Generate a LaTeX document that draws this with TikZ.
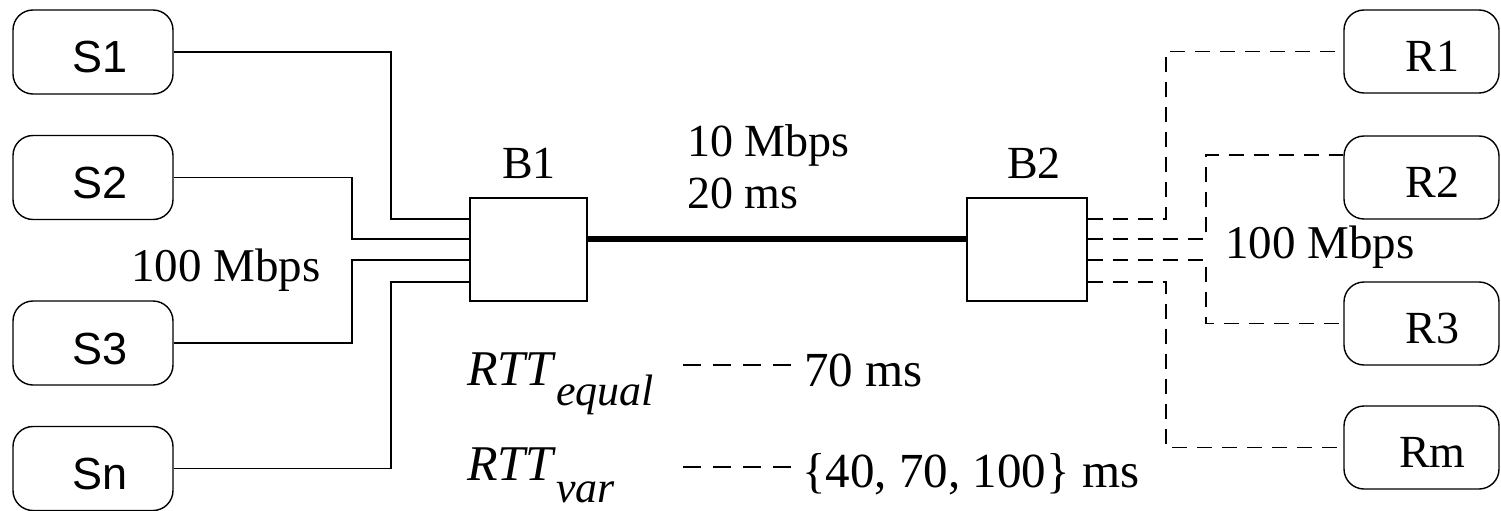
\documentclass[tikz,border=0pt]{standalone}
\usepackage{fontspec}
\setmainfont{Liberation Serif}
\newfontfamily\arialfont{Liberation Sans}
\begin{document}
\begin{tikzpicture}[x=1pt,y=-1pt,
  sbox/.style={draw, rounded corners=20pt, minimum width=160pt, minimum height=84pt,
    inner sep=0pt, font=\arialfont\fontsize{45}{54}\selectfont, text height=42pt, text depth=0pt, line width=1.4pt},
  rbox/.style={draw, rounded corners=20pt, minimum width=155pt, minimum height=83pt,
    inner sep=0pt, font=\fontsize{46}{54}\selectfont, text height=40pt, text depth=0pt, line width=1.4pt},
  bbox/.style={draw, minimum width=117pt, minimum height=103pt, inner sep=0pt, line width=1.4pt},
  lbl/.style={inner sep=0pt, anchor=base west, font=\fontsize{46}{54}\selectfont},
  big/.style={font=\fontsize{49}{58}\selectfont},
  wire/.style={line width=1.4pt},
  dwire/.style={line width=1.4pt, dash pattern=on 15pt off 10pt},
  legdash/.style={line width=1.2pt, dash pattern=on 18pt off 12pt},
  trunk/.style={line width=6.5pt}
]
\useasboundingbox (0,0) rectangle (1501,511);

% sender boxes
\node[sbox] (S1) at (93,52) {\hspace*{14pt}S1};
\node[sbox] (S2) at (93,177.5) {\hspace*{14pt}S2};
\node[sbox] (S3) at (93,343) {\hspace*{14pt}S3};
\node[sbox] (Sn) at (93,468.5) {\hspace*{14pt}Sn};

% receiver boxes
\node[rbox] (R1) at (1421.5,51.5) {\hspace*{22pt}R1};
\node[rbox] (R2) at (1421.5,177.5) {\hspace*{22pt}R2};
\node[rbox] (R3) at (1421.5,323.5) {\hspace*{22pt}R3};
\node[rbox] (Rm) at (1421.5,447.5) {\hspace*{22pt}Rm};

% routers
\node[bbox] (B1) at (528.5,249.5) {};
\node[bbox, minimum width=120pt] (B2) at (1027,249.5) {};

% port levels
\coordinate (p1) at (0,219);
\coordinate (p2) at (0,239);
\coordinate (p3) at (0,260);
\coordinate (p4) at (0,282);
\coordinate (q2) at (0,155);

% sender links
\draw[wire] (S1.east) -| (391,219) -- (B1.west |- p1);
\draw[wire] (S2.east) -| (352,239) -- (B1.west |- p2);
\draw[wire] (S3.east) -| (352,260) -- (B1.west |- p3);
\draw[wire] (Sn.east) -| (391,282) -- (B1.west |- p4);

% bottleneck
\draw[trunk] (B1.east |- p2) -- (B2.west |- p2);

% receiver links
\draw[dwire] (B2.east |- p1) -| (1166,51.5) -- (R1.west);
\draw[dwire] (B2.east |- p2) -| (1206,155) -- (R2.west |- q2);
\draw[dwire] (B2.east |- p3) -| (1206,323.5) -- (R3.west);
\draw[dwire] (B2.east |- p4) -| (1166,447.5) -- (Rm.west);

% labels
\node[lbl, anchor=base] (lB1) at (529,178) {B1};
\node[lbl, anchor=base] (lB2) at (1034,178) {B2};
\node[lbl] (l10) at (687,156) {10 Mbps};
\node[lbl] (l20) at (687,208) {20 ms};
\node[lbl, font=\fontsize{47}{56}\selectfont] (lL) at (131,281) {100 Mbps};
\node[lbl, font=\fontsize{47}{56}\selectfont] (lR) at (1225,258) {100 Mbps};

% legend
\node[lbl, font=\fontsize{50}{60}\selectfont] (rtte) at (467,385)
  {\textit{RTT}{\fontsize{44}{52}\selectfont\raisebox{-20pt}{\textit{equal}}}};
\node[lbl, font=\fontsize{50}{60}\selectfont] (rttv) at (467,480)
  {\textit{RTT}{\fontsize{44}{52}\selectfont\raisebox{-22pt}{\textit{var}}}};
\coordinate (d1a) at (683,365);
\coordinate (d1b) at (795,365);
\coordinate (d2a) at (683,467);
\coordinate (d2b) at (795,467);
\draw[legdash] (d1a) -- (d1b);
\draw[legdash] (d2a) -- (d2b);
\node[lbl, big] (v1) at (804,386) {70 ms};
\node[lbl, big] (v2) at (802,487) {\{40, 70, 100\} ms};
\end{tikzpicture}
\end{document}
